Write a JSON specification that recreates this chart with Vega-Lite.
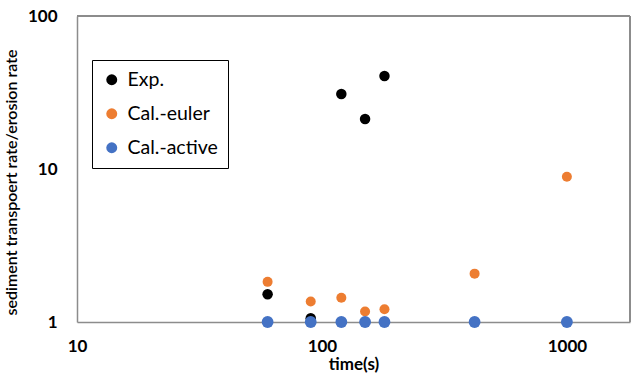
{
  "$schema": "https://vega.github.io/schema/vega-lite/v6.json",
  "autosize": {"type": "none"},
  "width": 553,
  "height": 306,
  "padding": {"left": 77, "top": 16, "right": 8, "bottom": 61},
  "background": "white",
  "config": {
    "font": "Lato",
    "view": {"stroke": null}
  },
  "data": {
    "values": [
      {"series": "Exp.", "time": 60, "rate": 1.52},
      {"series": "Exp.", "time": 90, "rate": 1.06},
      {"series": "Exp.", "time": 120, "rate": 30.9},
      {"series": "Exp.", "time": 150, "rate": 21.2},
      {"series": "Exp.", "time": 180, "rate": 40.5},
      {"series": "Cal.-euler", "time": 60, "rate": 1.83},
      {"series": "Cal.-euler", "time": 90, "rate": 1.36},
      {"series": "Cal.-euler", "time": 120, "rate": 1.44},
      {"series": "Cal.-euler", "time": 150, "rate": 1.17},
      {"series": "Cal.-euler", "time": 180, "rate": 1.21},
      {"series": "Cal.-euler", "time": 420, "rate": 2.07},
      {"series": "Cal.-euler", "time": 1000, "rate": 8.9},
      {"series": "Cal.-active", "time": 60, "rate": 1},
      {"series": "Cal.-active", "time": 90, "rate": 1},
      {"series": "Cal.-active", "time": 120, "rate": 1},
      {"series": "Cal.-active", "time": 150, "rate": 1},
      {"series": "Cal.-active", "time": 180, "rate": 1},
      {"series": "Cal.-active", "time": 420, "rate": 1},
      {"series": "Cal.-active", "time": 1000, "rate": 1}
    ]
  },
  "layer": [
    {
      "mark": {"type": "rule", "color": "#8c8c8c", "strokeWidth": 1.5},
      "encoding": {"y": {"datum": 100, "type": "quantitative"}}
    },
    {
      "mark": {"type": "rule", "color": "#8c8c8c", "strokeWidth": 1.5},
      "encoding": {"x": {"datum": 1810, "type": "quantitative"}}
    },
    {
      "encoding": {
        "x": {
          "field": "time", "type": "quantitative",
          "scale": {"type": "log", "domain": [10, 1810], "nice": false},
          "axis": {
            "title": "time(s)", "values": [10, 100, 1000], "format": "d",
            "grid": false, "ticks": false, "domain": true, "domainColor": "#8c8c8c", "domainWidth": 1.5,
            "labelFont": "Lato", "labelFontSize": 17, "labelFontWeight": "bold", "labelColor": "#000",
            "labelPadding": 16, "labelFlush": false,
            "titleFont": "Lato", "titleFontSize": 17, "titleFontWeight": "bold", "titleColor": "#000",
            "titlePadding": 2
          }
        },
        "y": {
          "field": "rate", "type": "quantitative",
          "scale": {"type": "log", "domain": [1, 100], "nice": false},
          "axis": {
            "title": "sediment transpoert rate/erosion rate", "values": [1, 10, 100], "format": "d",
            "grid": false, "ticks": false, "domain": true, "domainColor": "#8c8c8c", "domainWidth": 1.5,
            "labelFont": "Lato", "labelFontSize": 17, "labelFontWeight": "bold", "labelColor": "#000",
            "labelPadding": 20, "labelFlush": false,
            "titleFont": "Lato", "titleFontSize": 16, "titleFontWeight": 600, "titleColor": "#000",
            "titleX": -58, "titleY": 166
          }
        },
        "color": {
          "field": "series", "type": "nominal",
          "scale": {"domain": ["Exp.", "Cal.-euler", "Cal.-active"], "range": ["#000000", "#ED7D31", "#4472C4"]},
          "legend": {
            "title": null, "orient": "none", "legendX": 15, "legendY": 44,
            "strokeColor": "#000", "padding": 10, "fillColor": "white",
            "labelFont": "Lato", "labelFontSize": 19.5, "labelColor": "#000",
            "symbolSize": 120, "symbolType": "circle", "rowPadding": 13, "labelOffset": 6
          }
        }
      },
      "layer": [
        {
          "transform": [{"filter": "datum.series === 'Exp.'"}],
          "mark": {"type": "point", "filled": true, "opacity": 1, "size": 110}
        },
        {
          "transform": [{"filter": "datum.series === 'Cal.-euler'"}],
          "mark": {"type": "point", "filled": true, "opacity": 1, "size": 100}
        },
        {
          "transform": [{"filter": "datum.series === 'Cal.-active'"}],
          "mark": {"type": "point", "filled": true, "opacity": 1, "size": 140}
        }
      ]
    }
  ]
}
